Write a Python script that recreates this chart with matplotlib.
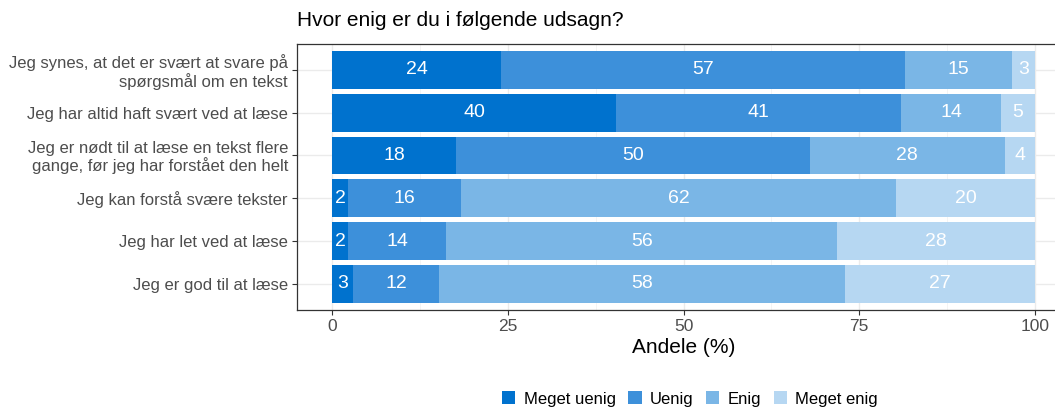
import matplotlib
matplotlib.use("Agg")
import matplotlib.pyplot as plt
from matplotlib.patches import Patch
import numpy as np

plt.rcParams['font.family'] = ['Liberation Sans', 'DejaVu Sans']

categories = [
    "Jeg synes, at det er svært at svare på\nspørgsmål om en tekst",
    "Jeg har altid haft svært ved at læse",
    "Jeg er nødt til at læse en tekst flere\ngange, før jeg har forstået den helt",
    "Jeg kan forstå svære tekster",
    "Jeg har let ved at læse",
    "Jeg er god til at læse",
]
series_names = ["Meget uenig", "Uenig", "Enig", "Meget enig"]
meget_uenig = [24.1, 40.4, 17.6, 2.3, 2.3, 3.0]
uenig = [57.4, 40.6, 50.4, 16.0, 13.9, 12.2]
enig = [15.2, 14.2, 27.7, 62.0, 55.7, 57.8]
meget_enig = [3.3, 4.8, 4.3, 19.7, 28.1, 27.0]
labels_mu = [24, 40, 18, 2, 2, 3]
labels_u = [57, 41, 50, 16, 14, 12]
labels_e = [15, 14, 28, 62, 56, 58]
labels_me = [3, 5, 4, 20, 28, 27]
colors = ["#0072CE", "#3D90DA", "#7AB6E6", "#B6D7F2"]
xticks = [0, 25, 50, 75, 100]

W, H = 1055, 408
fig = plt.figure(figsize=(W / 100, H / 100), dpi=100)
left, right, top, bottom = 297, 1070, 44.2, 309.6
ax = fig.add_axes([left / W, 1 - bottom / H, (right - left) / W, (bottom - top) / H])

n = len(categories)
ypos = np.arange(n)[::-1] + 1  # top category at highest y
series = [meget_uenig, uenig, enig, meget_enig]
labs = [labels_mu, labels_u, labels_e, labels_me]
cum = np.zeros(n)
for vals, lab, col in zip(series, labs, colors):
    vals = np.array(vals)
    ax.barh(ypos, vals, left=cum, height=0.88, color=col, zorder=3, linewidth=0)
    for y, l, v, c in zip(ypos, lab, vals, cum):
        ax.text(c + v / 2, y, str(l), ha='center', va='center', color='white',
                fontsize=14, zorder=4)
    cum = cum + vals

ax.set_xlim(-5, 105)
ax.set_ylim(0.4, n + 0.6)
ax.set_yticks(ypos)
ax.set_yticklabels(categories, fontsize=12, color='#4D4D4D', linespacing=1.1)
ax.set_xticks(xticks)
ax.set_xticklabels([str(t) for t in xticks], fontsize=12.5, color='#4D4D4D')
ax.set_xticks([12.5, 37.5, 62.5, 87.5], minor=True)
ax.grid(True, which='major', color='#EBEBEB', linewidth=1.0, zorder=0)
ax.grid(True, which='minor', axis='x', color='#F2F2F2', linewidth=0.6, zorder=0)
ax.tick_params(axis='both', which='major', length=3.5, width=0.8, color='#333333', pad=3)
ax.tick_params(axis='x', which='minor', length=0)
for s in ax.spines.values():
    s.set_color('#333333')
    s.set_linewidth(0.9)
ax.set_xlabel("Andele (%)", fontsize=15, labelpad=3)

fig.text(left / W, 1 - 20 / H, "Hvor enig er du i følgende udsagn?", fontsize=15,
         ha='left', va='center')

handles = [Patch(facecolor=c, edgecolor='none') for c in colors]
fig.legend(handles, series_names, loc='center', bbox_to_anchor=(690 / W, 1 - 399 / H),
           ncol=4, frameon=False, fontsize=12, handlelength=0.8, handleheight=0.8,
           handletextpad=0.5, columnspacing=0.75, borderaxespad=0)

fig.savefig("out.png", dpi=100)
